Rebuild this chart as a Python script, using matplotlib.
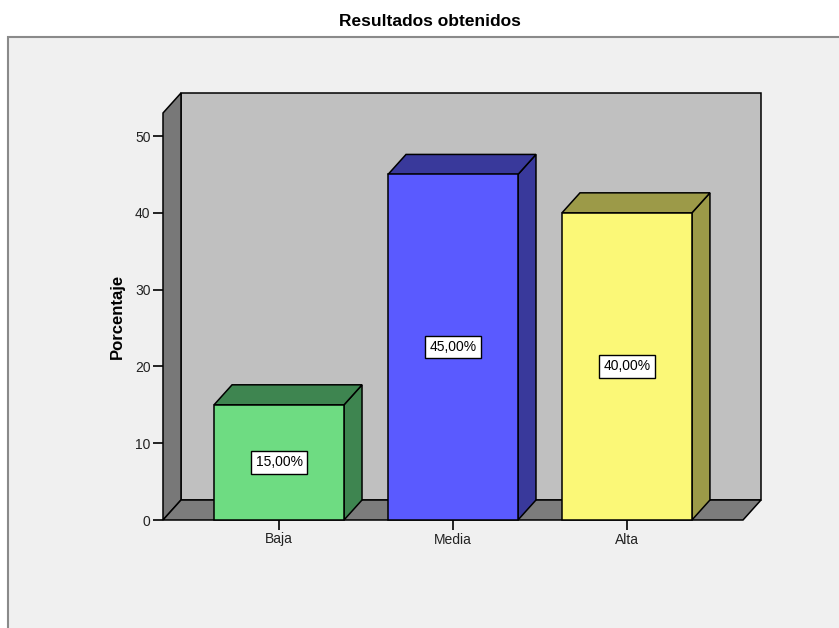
import matplotlib.pyplot as plt
from matplotlib.patches import Polygon, Rectangle
import numpy as np

# datos del grafico
categorias = ['Baja', 'Media', 'Alta']
porcentajes = [15.0, 45.0, 40.0]
etiquetas = ['15,00%', '45,00%', '40,00%']
colores_frente = ['#6edc82', '#5a5aff', '#fbf877']
colores_lado = ['#3e8550', '#39399b', '#9c9a48']

W, H = 839, 628
fig = plt.figure(figsize=(W / 100, H / 100), dpi=100)
fig.patch.set_facecolor('white')

# marco gris de fondo (estilo SPSS)
marco = Rectangle((8 / W, -0.01), 1.0, 1.01 - 37 / H, transform=fig.transFigure,
                  facecolor='#f0f0f0', edgecolor='#8a8a8a', linewidth=1.5, zorder=-5)
fig.add_artist(marco)

fig.text(430 / W, 1 - 21 / H, 'Resultados obtenidos', ha='center', va='center',
         fontsize=12.5, fontweight='bold', family='Liberation Sans')

# ejes frontales
x_izq, x_der = 163, 743
y_base, y_top = 520, 113
ax = fig.add_axes([x_izq / W, 1 - y_base / H, (x_der - x_izq) / W, (y_base - y_top) / H])
ax.set_zorder(1)
ax.set_facecolor('none')
x0, x1 = -0.667, 2.667
ymax = 53
ax.set_xlim(x0, x1)
ax.set_ylim(0, ymax)

# desplazamiento 3D (18 px a la derecha, 20 px arriba)
px_x = (x_der - x_izq) / (x1 - x0)
px_y = (y_base - y_top) / ymax
dx = 18 / px_x
dy = 20 / px_y


def poly(pts, color, z):
    ax.add_patch(Polygon(pts, closed=True, facecolor=color, edgecolor='black',
                         linewidth=1.1, clip_on=False, zorder=z, joinstyle='miter'))


# pared del fondo, pared izquierda y piso
poly([(x0 + dx, dy), (x1 + dx, dy), (x1 + dx, ymax + dy), (x0 + dx, ymax + dy)], '#c0c0c0', 1)
poly([(x0, 0), (x0 + dx, dy), (x0 + dx, ymax + dy), (x0, ymax)], '#787878', 2)
poly([(x0, 0), (x1, 0), (x1 + dx, dy), (x0 + dx, dy)], '#7c7c7c', 2)

# barras 3D
ancho = 0.747
for i, (v, cf, cl, et) in enumerate(zip(porcentajes, colores_frente, colores_lado, etiquetas)):
    a, b = i - ancho / 2, i + ancho / 2
    poly([(b, 0), (b + dx, dy), (b + dx, v + dy), (b, v)], cl, 3)
    poly([(a, v), (b, v), (b + dx, v + dy), (a + dx, v + dy)], cl, 3)
    poly([(a, 0), (b, 0), (b, v), (a, v)], cf, 4)
    ax.text(i, v / 2, et, ha='center', va='center', fontsize=10, zorder=6,
            family='Liberation Sans',
            bbox=dict(boxstyle='square,pad=0.3', facecolor='white', edgecolor='black', linewidth=1))

for s in ax.spines.values():
    s.set_visible(False)

ax.set_yticks(np.arange(0, 51, 10))
ax.set_xticks(range(len(categorias)))
ax.set_xticklabels(categorias)
ax.tick_params(axis='both', direction='out', length=7, width=1.2, colors='black',
               labelsize=10, pad=2)
for lbl in ax.get_xticklabels() + ax.get_yticklabels():
    lbl.set_family('Liberation Sans')
    lbl.set_color('#222222')

ax.set_ylabel('Porcentaje', fontsize=12, fontweight='bold', family='Liberation Sans', labelpad=7)

plt.savefig('out.png', dpi=100)
